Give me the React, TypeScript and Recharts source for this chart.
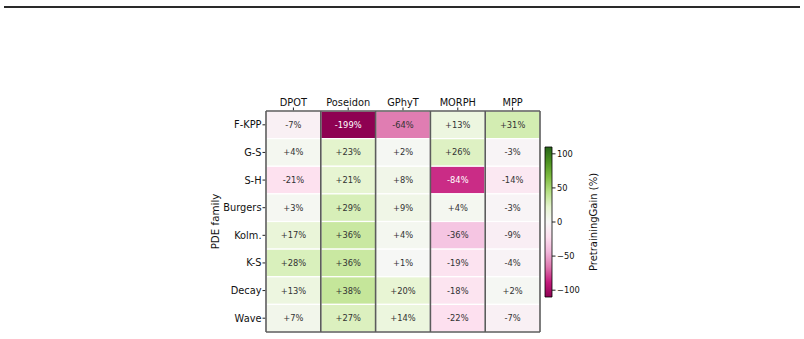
import { Bar, BarChart, Scatter, ScatterChart, XAxis, YAxis } from 'recharts';

const MODELS = ['DPOT', 'Poseidon', 'GPhyT', 'MORPH', 'MPP'];
const FAMILIES = ['F-KPP', 'G-S', 'S-H', 'Burgers', 'Kolm.', 'K-S', 'Decay', 'Wave'];

// pretraining gain (%) per model, in FAMILIES order
const DPOT_GAIN = [-7, 4, -21, 3, 17, 28, 13, 7];
const POSEIDON_GAIN = [-199, 23, 21, 29, 36, 36, 38, 27];
const GPHYT_GAIN = [-64, 2, 8, 9, 4, 1, 20, 14];
const MORPH_GAIN = [13, 26, -84, 4, -36, -19, -18, -22];
const MPP_GAIN = [31, -3, -14, -3, -9, -4, 2, -7];
const GAINS = [DPOT_GAIN, POSEIDON_GAIN, GPHYT_GAIN, MORPH_GAIN, MPP_GAIN];

const COLORBAR_TICKS = [-100, -50, 0, 50, 100];
const V_MIN = -110;
const V_MAX = 110;

// matplotlib PiYG
const PIYG = [
  '#8e0152', '#c51b7d', '#de77ae', '#f1b6da', '#fde0ef', '#f7f7f7',
  '#e6f5d0', '#b8e186', '#7fbc41', '#4d9221', '#276419',
];

const FONT = "'DejaVu Sans', sans-serif";
const PLOT_W = 274;
const PLOT_H = 221;
const CELL_W = PLOT_W / MODELS.length;
const CELL_H = PLOT_H / FAMILIES.length;
const EDGE = '#5c5c5c';

function hexToRgb(hex: string) {
  const n = parseInt(hex.slice(1), 16);
  return [(n >> 16) & 255, (n >> 8) & 255, n & 255];
}

function piyg(value: number): string {
  const t = Math.min(1, Math.max(0, (value - V_MIN) / (V_MAX - V_MIN)));
  const pos = t * (PIYG.length - 1);
  const i = Math.min(PIYG.length - 2, Math.floor(pos));
  const f = pos - i;
  const a = hexToRgb(PIYG[i]);
  const b = hexToRgb(PIYG[i + 1]);
  const c = a.map((v, k) => Math.round(v + (b[k] - v) * f));
  return `rgb(${c[0]},${c[1]},${c[2]})`;
}

const cells = GAINS.flatMap((col, m) =>
  col.map((value, f) => ({ x: m + 0.5, y: f + 0.5, value })),
);

// column separators and top/bottom frame edges
const columnEdges = MODELS.map((_, i) => ({ x: i, y: FAMILIES.length / 2 })).concat([
  { x: MODELS.length, y: FAMILIES.length / 2 },
]);
const rowEdges = [
  { x: MODELS.length / 2, y: 0 },
  { x: MODELS.length / 2, y: FAMILIES.length },
];

function formatGain(v: number) {
  return `${v > 0 ? '+' : ''}${v}%`;
}

function HeatCell(props: any) {
  const { cx, cy, payload } = props;
  const dark = payload.value < -75;
  return (
    <g>
      <rect
        x={cx - CELL_W / 2}
        y={cy - CELL_H / 2}
        width={CELL_W}
        height={CELL_H}
        fill={piyg(payload.value)}
        stroke="#fff"
        strokeWidth={1.2}
      />
      <text
        x={cx}
        y={cy}
        textAnchor="middle"
        dominantBaseline="central"
        fontSize={8.3}
        fontFamily={FONT}
        fill={dark ? '#fff' : '#333'}
      >
        {formatGain(payload.value)}
      </text>
    </g>
  );
}

function VLine(props: any) {
  const { cx, cy } = props;
  return <line x1={cx} x2={cx} y1={cy - PLOT_H / 2} y2={cy + PLOT_H / 2} stroke={EDGE} strokeWidth={1.6} />;
}

function HLine(props: any) {
  const { cx, cy } = props;
  return <line x1={cx - PLOT_W / 2} x2={cx + PLOT_W / 2} y1={cy} y2={cy} stroke={EDGE} strokeWidth={1.6} />;
}

function VerticalLabel(dx: number, text: string, size: number) {
  return ({ viewBox }: any) => (
    <text
      x={viewBox.x + dx}
      y={viewBox.y + viewBox.height / 2}
      transform={`rotate(-90 ${viewBox.x + dx} ${viewBox.y + viewBox.height / 2})`}
      textAnchor="middle"
      dominantBaseline="central"
      fontSize={size}
      fontFamily={FONT}
      fill="#111"
    >
      {text}
    </text>
  );
}

const tickStyle = { fontSize: 9.8, fontFamily: FONT, fill: '#111' };

export default function App() {
  return (
    <div style={{ position: 'fixed', left: 0, top: 0, width: 804, height: 339, background: '#fff' }}>
      <div
        style={{ position: 'absolute', left: 4, top: 6, width: 796, height: 0, borderTop: '2px solid #2a2a2a' }}
      />
      <div style={{ position: 'absolute', left: 0, top: 0 }}>
        <ScatterChart width={804} height={339} margin={{ top: 91, right: 264, bottom: 7, left: 206 }}>
          <XAxis
            type="number"
            dataKey="x"
            orientation="top"
            domain={[0, MODELS.length]}
            ticks={MODELS.map((_, i) => i + 0.5)}
            tickFormatter={(v) => MODELS[Math.floor(v)]}
            axisLine={false}
            tickSize={3.5}
            tickMargin={2}
            tick={tickStyle}
            tickLine={{ stroke: '#222' }}
            height={20}
            interval={0}
          />
          <YAxis
            type="number"
            dataKey="y"
            reversed
            domain={[0, FAMILIES.length]}
            ticks={FAMILIES.map((_, i) => i + 0.5)}
            tickFormatter={(v) => FAMILIES[Math.floor(v)]}
            axisLine={false}
            tickSize={3.5}
            tickMargin={1}
            tick={tickStyle}
            tickLine={{ stroke: '#222' }}
            width={60}
            interval={0}
            label={{ content: VerticalLabel(9, 'PDE family', 10.3) }}
          />
          <Scatter data={cells} shape={HeatCell} isAnimationActive={false} />
          <Scatter data={columnEdges} shape={VLine} isAnimationActive={false} />
          <Scatter data={rowEdges} shape={HLine} isAnimationActive={false} />
        </ScatterChart>
      </div>
      <div style={{ position: 'absolute', left: 520, top: 130 }}>
        <BarChart
          width={110}
          height={185}
          data={[{ name: 'cb', span: [V_MIN, V_MAX] }]}
          margin={{ top: 17, right: 18, bottom: 18, left: 25 }}
          barCategoryGap={0}
        >
          <defs>
            <linearGradient id="piyg" x1="0" y1="0" x2="0" y2="1">
              {PIYG.map((_, k) => {
                const i = PIYG.length - 1 - k;
                return <stop key={i} offset={`${(k / (PIYG.length - 1)) * 100}%`} stopColor={PIYG[i]} />;
              })}
            </linearGradient>
          </defs>
          <XAxis dataKey="name" hide />
          <YAxis
            orientation="right"
            type="number"
            domain={[V_MIN, V_MAX]}
            ticks={COLORBAR_TICKS}
            tickFormatter={(v) => String(v).replace('-', '\u2212')}
            axisLine={false}
            tickSize={3.5}
            tickMargin={1.5}
            tick={{ fontSize: 8.3, fontFamily: FONT, fill: '#111', textAnchor: 'start' }}
            tickLine={{ stroke: '#222' }}
            width={60}
            interval={0}
            label={{ content: VerticalLabel(41, 'PretrainingGain (%)', 10) }}
          />
          <Bar dataKey="span" fill="url(#piyg)" stroke="#000" strokeWidth={0.8} isAnimationActive={false} />
        </BarChart>
      </div>
    </div>
  );
}
